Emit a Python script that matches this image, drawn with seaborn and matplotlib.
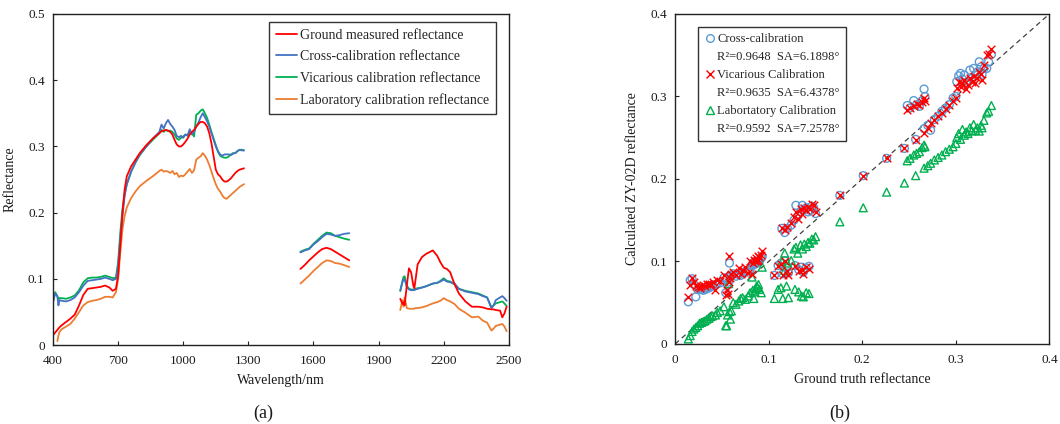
import numpy as np
import pandas as pd
import matplotlib
matplotlib.use("Agg")
import matplotlib.pyplot as plt
from matplotlib.lines import Line2D
from matplotlib.ticker import FuncFormatter
import seaborn as sns

# ---------------- data: panel (a) spectra ----------------
wl_seg1 = [400, 410, 420, 425, 430, 440, 460, 480, 500, 520, 540, 560, 580, 600, 620, 640, 660, 675, 690,
           700, 710, 720, 730, 740, 760, 780, 800, 830, 860, 890, 900, 910, 920, 930, 940, 950, 960, 970,
           980, 990, 1000, 1010, 1020, 1030, 1040, 1050, 1060, 1070, 1080, 1090, 1100, 1110, 1120, 1130,
           1140, 1150, 1160, 1170, 1180, 1190, 1200, 1210, 1220, 1230, 1240, 1250, 1260, 1270, 1280]
ground_seg1 = [.015, .019, .023, .025, .027, .030, .035, .040, .046, .060, .076, .085, .086, .087, .088, .090, .087, .082, .085,
               .105, .150, .200, .235, .255, .270, .280, .290, .302, .312, .320, .323, .324, .325, .324, .322, .318, .310, .303,
               .300, .300, .303, .307, .312, .318, .322, .325, .330, .334, .337, .337, .335, .330, .320, .305,
               .285, .265, .258, .255, .250, .247, .247, .249, .252, .256, .260, .263, .265, .266, .267]
cross_seg1 = [.065, .078, .074, .060, .068, .067, .066, .068, .072, .080, .090, .097, .098, .099, .100, .102, .100, .098, .100,
              .120, .160, .195, .225, .243, .262, .276, .288, .300, .312, .322, .333, .327, .335, .340, .334, .330, .325, .316,
              .314, .316, .313, .318, .317, .326, .318, .322, .330, .336, .344, .350, .344, .338, .330, .320,
              .310, .300, .293, .288, .286, .288, .288, .288, .287, .289, .290, .293, .295, .294, .294]
vic_seg1 = [.065, .080, .074, .070, .071, .071, .070, .072, .075, .083, .095, .101, .102, .102, .103, .105, .103, .101, .102,
            .125, .170, .205, .228, .243, .262, .276, .287, .300, .310, .320, .325, .322, .325, .323, .324, .322, .318, .312,
            .310, .313, .315, .318, .316, .322, .320, .315, .348, .350, .354, .356, .350, .343, .333, .322,
            .312, .302, .292, .286, .284, .283, .283, .285, .288, .290, .290, .293, .295, .295, .294]
lab_seg1 = [np.nan, np.nan, .006, .014, .020, .024, .028, .032, .040, .050, .060, .065, .067, .068, .070, .073, .073, .072, .080,
            .100, .140, .175, .195, .208, .222, .232, .240, .248, .255, .263, .265, .262, .263, .262, .260, .263, .258, .260,
            .254, .256, .255, .258, .262, .266, .260, .264, .280, .283, .285, .290, .286, .280, .272, .262,
            .252, .243, .236, .232, .226, .222, .221, .224, .227, .230, .233, .236, .239, .241, .243]

wl_seg2 = [1540, 1560, 1580, 1600, 1620, 1640, 1660, 1680, 1700, 1720, 1740, 1765]
ground_seg2 = [.115, .121, .128, .134, .140, .145, .147, .145, .141, .137, .133, .128]
cross_seg2 = [.140, .143, .145, .152, .157, .163, .168, .167, .165, .166, .168, .169]
vic_seg2 = [.141, .144, .146, .153, .159, .165, .170, .169, .165, .163, .161, .159]
lab_seg2 = [.093, .099, .105, .112, .118, .124, .128, .127, .124, .123, .121, .118]

wl_seg3 = [2000, 2010, 2015, 2020, 2030, 2040, 2050, 2060, 2065, 2070, 2080, 2100, 2120, 2150, 2170, 2185, 2200,
           2215, 2230, 2250, 2270, 2300, 2330, 2360, 2380, 2400, 2420, 2430, 2440, 2460, 2470, 2480, 2490]
ground_seg3 = [.070, .062, .065, .060, .090, .116, .110, .090, .086, .098, .122, .133, .138, .143, .135, .125, .117,
               .115, .110, .092, .078, .066, .058, .058, .057, .055, .054, .054, .053, .052, .042, .048, .058]
cross_seg3 = [.082, .095, .100, .099, .088, .084, .083, .083, .083, .084, .085, .087, .089, .093, .094, .096, .099,
              .096, .095, .092, .085, .081, .079, .077, .074, .072, .056, .060, .068, .072, .074, .071, .067]
vic_seg3 = [.082, .097, .103, .104, .090, .085, .084, .084, .084, .085, .086, .087, .089, .093, .094, .097, .101,
            .097, .096, .093, .085, .082, .080, .078, .075, .072, .057, .060, .063, .065, .066, .063, .059]
lab_seg3 = [.053, .068, .058, .072, .056, .055, .055, .055, .055, .056, .056, .057, .059, .063, .065, .067, .071,
            .068, .066, .062, .055, .049, .042, .043, .037, .034, .022, .025, .029, .031, .032, .028, .021]

series_names = ["Ground measured reflectance", "Cross-calibration reflectance",
                "Vicarious calibration reflectance", "Laboratory calibration reflectance"]

# ---------------- data: panel (b) scatter ----------------
ground_truth = [0.014, 0.016, 0.018, 0.020, 0.022, 0.024, 0.026, 0.028, 0.030, 0.032, 0.034, 0.036, 0.038, 0.040, 0.043, 0.045, 0.048,
                0.052, 0.054, 0.055, 0.056, 0.057, 0.058, 0.059, 0.060,
                0.062, 0.065, 0.068, 0.070, 0.072, 0.075, 0.078, 0.080, 0.082, 0.083, 0.084, 0.085, 0.086, 0.087, 0.088, 0.089, 0.090, 0.092, 0.093,
                0.106, 0.110, 0.113, 0.115, 0.117, 0.119, 0.121,
                0.114, 0.117, 0.120, 0.124, 0.127, 0.129, 0.131, 0.134, 0.136, 0.138, 0.140, 0.142, 0.144, 0.146, 0.148, 0.150,
                0.128, 0.132, 0.135, 0.137, 0.140, 0.143,
                0.176, 0.201, 0.226, 0.245,
                0.248, 0.251, 0.255, 0.258, 0.261, 0.264, 0.266, 0.267,
                0.257, 0.266, 0.270, 0.273, 0.277, 0.281, 0.285, 0.289, 0.293, 0.297, 0.300,
                0.301, 0.303, 0.305, 0.307, 0.309, 0.311, 0.313, 0.315, 0.317, 0.319, 0.321, 0.323, 0.325, 0.327, 0.328,
                0.330, 0.333, 0.335, 0.338]
cross_calc = [0.051, 0.077, 0.079, 0.072, 0.057, 0.066, 0.067, 0.066, 0.065, 0.066, 0.067, 0.068, 0.069, 0.071, 0.072, 0.073, 0.074,
              0.080, 0.062, 0.078, 0.072, 0.075, 0.098, 0.082, 0.083,
              0.085, 0.082, 0.084, 0.083, 0.086, 0.088, 0.087, 0.090, 0.095, 0.098, 0.096, 0.097, 0.100, 0.099, 0.098, 0.101, 0.100, 0.104, 0.106,
              0.083, 0.095, 0.098, 0.085, 0.101, 0.092, 0.086,
              0.140, 0.135, 0.140, 0.144, 0.150, 0.168, 0.155, 0.160, 0.168, 0.163, 0.165, 0.160, 0.162, 0.167, 0.165, 0.158,
              0.095, 0.090, 0.093, 0.087, 0.092, 0.094,
              0.180, 0.204, 0.225, 0.237,
              0.289, 0.286, 0.295, 0.290, 0.288, 0.295, 0.309, 0.300,
              0.248, 0.261, 0.265, 0.259, 0.272, 0.276, 0.282, 0.286, 0.290, 0.298, 0.300,
              0.318, 0.325, 0.328, 0.321, 0.326, 0.316, 0.318, 0.332, 0.322, 0.334, 0.326, 0.330, 0.342, 0.336, 0.327,
              0.334, 0.334, 0.342, 0.351]
vic_calc = [0.057, 0.071, 0.080, 0.075, 0.070, 0.069, 0.068, 0.070, 0.071, 0.070, 0.072, 0.073, 0.072, 0.075, 0.065, 0.077, 0.076,
            0.083, 0.059, 0.065, 0.060, 0.075, 0.106, 0.080, 0.085,
            0.087, 0.083, 0.092, 0.085, 0.090, 0.093, 0.086, 0.100, 0.085, 0.098, 0.102, 0.100, 0.104, 0.101, 0.102, 0.106, 0.105, 0.108, 0.112,
            0.084, 0.094, 0.097, 0.083, 0.100, 0.088, 0.083,
            0.141, 0.138, 0.142, 0.146, 0.154, 0.160, 0.152, 0.163, 0.158, 0.165, 0.162, 0.166, 0.164, 0.170, 0.168, 0.160,
            0.094, 0.088, 0.089, 0.085, 0.093, 0.091,
            0.181, 0.204, 0.225, 0.238,
            0.284, 0.286, 0.289, 0.291, 0.290, 0.293, 0.298, 0.295,
            0.247, 0.256, 0.262, 0.268, 0.272, 0.276, 0.280, 0.285, 0.290, 0.294, 0.298,
            0.310, 0.318, 0.312, 0.316, 0.320, 0.309, 0.314, 0.322, 0.318, 0.325, 0.316, 0.322, 0.330, 0.327, 0.320,
            0.338, 0.350, 0.352, 0.357]
lab_calc = [0.006, 0.010, 0.015, 0.018, 0.020, 0.022, 0.025, 0.026, 0.027, 0.028, 0.030, 0.031, 0.033, 0.034, 0.035, 0.038, 0.040,
            0.045, 0.022, 0.022, 0.035, 0.073, 0.039, 0.030, 0.040,
            0.050, 0.048, 0.052, 0.055, 0.056, 0.054, 0.058, 0.062, 0.081, 0.065, 0.055, 0.063, 0.067, 0.070, 0.068, 0.072, 0.066, 0.062, 0.093,
            0.055, 0.066, 0.068, 0.055, 0.089, 0.070, 0.056,
            0.100, 0.110, 0.098, 0.101, 0.115, 0.117, 0.110, 0.120, 0.115, 0.121, 0.118, 0.123, 0.122, 0.127, 0.126, 0.130,
            0.066, 0.063, 0.058, 0.057, 0.062, 0.061,
            0.148, 0.165, 0.184, 0.195,
            0.222, 0.225, 0.229, 0.231, 0.233, 0.238, 0.241, 0.239,
            0.204, 0.213, 0.216, 0.219, 0.223, 0.226, 0.229, 0.233, 0.236, 0.239, 0.243,
            0.250, 0.255, 0.248, 0.260, 0.253, 0.257, 0.255, 0.262, 0.258, 0.266, 0.259, 0.262, 0.258, 0.265, 0.262,
            0.271, 0.280, 0.282, 0.289]
scatter_labels = ["Cross-calibration", "R\u00b2=0.9648  SA=6.1898\u00b0",
                  "Vicarious Calibration", "R\u00b2=0.9635  SA=6.4378\u00b0",
                  "Labortatory Calibration", "R\u00b2=0.9592  SA=7.2578\u00b0"]

# ---------------- styling ----------------
sns.set_theme(style="white")
plt.rcParams["font.family"] = ["Liberation Serif", "DejaVu Serif"]
plt.rcParams["font.size"] = 9.5
plt.rcParams["mathtext.fontset"] = "stix"

c_red, c_blue, c_green, c_orange = "#ff0000", "#4472c4", "#00b050", "#ed7d31"
line_colors = [c_red, c_blue, c_green, c_orange]
txt_col = "#1a1a1a"

fig = plt.figure(figsize=(10.6, 4.24), dpi=100)
ax1 = fig.add_axes([0.050, 0.186, 0.430, 0.781])
ax2 = fig.add_axes([0.637, 0.189, 0.353, 0.778])

# ---- panel (a) ----
rows = []
segs = [(wl_seg1, [ground_seg1, cross_seg1, vic_seg1, lab_seg1]),
        (wl_seg2, [ground_seg2, cross_seg2, vic_seg2, lab_seg2]),
        (wl_seg3, [ground_seg3, cross_seg3, vic_seg3, lab_seg3])]
for si, (wl, vals) in enumerate(segs):
    for name, v in zip(series_names, vals):
        for w, r in zip(wl, v):
            rows.append({"wl": w, "refl": r, "series": name, "seg": si})
df = pd.DataFrame(rows).dropna()
sns.lineplot(data=df, x="wl", y="refl", hue="series", units="seg", estimator=None,
             palette=dict(zip(series_names, line_colors)), hue_order=series_names[::-1],
             linewidth=1.3, ax=ax1, legend=False, sort=False)
ax1.set_xlim(400, 2500)
ax1.set_ylim(0, 0.5)
ax1.set_xticks(np.arange(400, 2501, 300))
ax1.set_yticks(np.arange(0, 0.51, 0.1))
ax1.yaxis.set_major_formatter(FuncFormatter(lambda v, p: "0" if abs(v) < 1e-9 else f"{v:.1f}"))
ax1.set_xlabel("Wavelength/nm", fontsize=10, color=txt_col, labelpad=5)
ax1.set_ylabel("Reflectance", fontsize=10, color=txt_col, labelpad=8)
h1 = [Line2D([], [], color=c, lw=1.3) for c in line_colors]
leg1 = ax1.legend(h1, series_names, loc="upper right", bbox_to_anchor=(0.972, 0.977), borderaxespad=0,
                  frameon=True, fancybox=False, edgecolor="black", handlelength=1.5, handletextpad=0.2,
                  labelspacing=0.62, borderpad=0.5, fontsize=10)
leg1.get_frame().set_linewidth(1.0)

# ---- panel (b) ----
ax2.plot([0, 0.4], [0, 0.4], ls=(0, (4, 3)), color="#404040", lw=0.9, zorder=1)
sdf = pd.DataFrame({"gt": ground_truth, "cross": cross_calc, "vic": vic_calc, "lab": lab_calc})
sns.scatterplot(data=sdf, x="gt", y="cross", marker="o", s=32, facecolors="none",
                edgecolor="#5b9bd5", linewidth=1.0, ax=ax2, zorder=2)
sns.scatterplot(data=sdf, x="gt", y="lab", marker="^", s=32, facecolors="none",
                edgecolor=c_green, linewidth=1.0, ax=ax2, zorder=2)
sns.scatterplot(data=sdf, x="gt", y="vic", marker="x", s=30, color=c_red,
                linewidth=1.0, ax=ax2, zorder=3)
ax2.set_xlim(0, 0.4)
ax2.set_ylim(0, 0.4)
ax2.set_xticks(np.arange(0, 0.41, 0.1))
ax2.set_yticks(np.arange(0, 0.41, 0.1))
fmt = FuncFormatter(lambda v, p: "0" if abs(v) < 1e-9 else f"{v:.1f}")
ax2.xaxis.set_major_formatter(fmt)
ax2.yaxis.set_major_formatter(fmt)
ax2.set_xlabel("Ground truth reflectance", fontsize=10, color=txt_col, labelpad=5)
ax2.set_ylabel("Calculated ZY-02D reflectance", fontsize=10, color=txt_col, labelpad=8)
blank = Line2D([], [], linestyle="none", marker="")
h2 = [Line2D([], [], linestyle="none", marker="o", mfc="none", mec="#5b9bd5", ms=5.5, mew=1.0), blank,
      Line2D([], [], linestyle="none", marker="x", color=c_red, ms=5.5, mew=1.0), blank,
      Line2D([], [], linestyle="none", marker="^", mfc="none", mec=c_green, ms=5.5, mew=1.0), blank]
leg2 = ax2.legend(h2, scatter_labels, loc="upper left", bbox_to_anchor=(0.062, 0.961), borderaxespad=0,
                  frameon=True, fancybox=False, edgecolor="black", handlelength=0.8, handletextpad=0.2,
                  labelspacing=0.48, borderpad=0.5, fontsize=9)
leg2.get_frame().set_linewidth(1.0)

for ax in (ax1, ax2):
    for sp in ax.spines.values():
        sp.set_color("#222222")
        sp.set_linewidth(1.0)
        sp.set_visible(True)
    ax.tick_params(direction="in", length=3, width=0.8, colors="#222222",
                   labelsize=9.5, labelcolor=txt_col, bottom=True, left=True)
    ax.tick_params(axis="x", pad=7)
    ax.tick_params(axis="y", pad=6)
    ax.grid(False)

fig.text(263 / 1060, 1 - 413 / 424, "(a)", ha="center", va="center", fontsize=13, color=txt_col)
fig.text(840 / 1060, 1 - 413 / 424, "(b)", ha="center", va="center", fontsize=13, color=txt_col)

fig.savefig("out.png", dpi=100, facecolor="white")
